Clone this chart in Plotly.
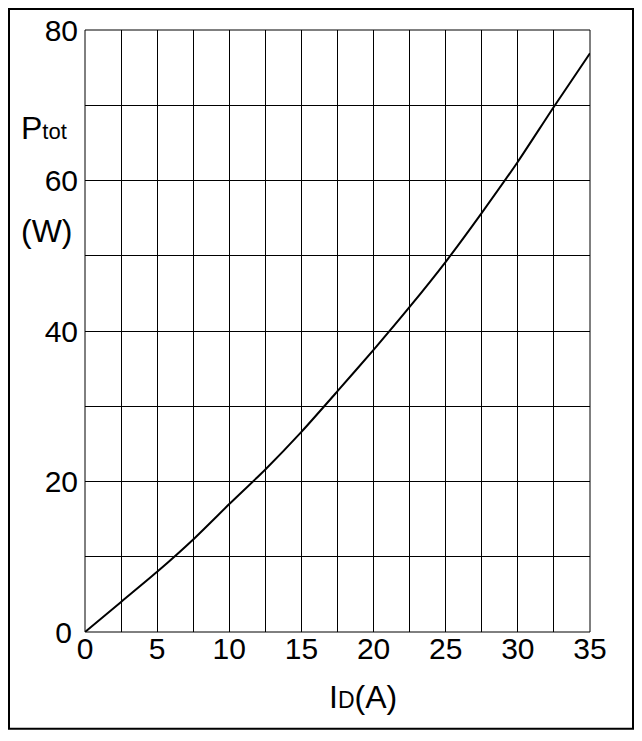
import plotly.graph_objects as go

current_a = [0, 2.5, 5, 7.5, 10, 12.5, 15, 17.5, 20, 22.5, 25, 27.5, 30, 32.5, 35]
power_w = [0, 4.0, 8.0, 12.3, 17.0, 21.6, 26.6, 32.0, 37.5, 43.2, 49.2, 55.7, 62.5, 69.8, 76.9]

y_tick_vals = [0, 20, 40, 60, 80]
y_tick_text = ["0\u2009", "20", "40", "60", "80"]

FONT = "Liberation Sans, Arial, sans-serif"
OFFX, OFFY = 8, 8  # default page body margin

W, H = 626, 725
L, R, T, B = 77, 44, 22, 101
pw, ph = W - L - R, H - T - B


def px2x(page_x):
    return (page_x - OFFX - L) / pw


def px2y(page_y):
    return (H - B - (page_y - OFFY)) / ph


fig = go.Figure()
fig.add_trace(go.Scatter(x=current_a, y=power_w, mode="lines",
                         line=dict(color="black", width=2, shape="spline", smoothing=0.6),
                         hoverinfo="skip", showlegend=False))

tickfont = dict(family=FONT, size=30, color="black")

fig.update_xaxes(range=[0, 35], dtick=5, tick0=0, automargin=False,
                 showline=False, showgrid=True, gridcolor="black", gridwidth=1,
                 minor=dict(dtick=2.5, showgrid=True, gridcolor="black", gridwidth=1),
                 zeroline=False, ticks="", tickfont=tickfont,
                 ticklabelstandoff=0, anchor="free", position=0.007)
fig.update_yaxes(range=[0, 80], tickmode="array", tickvals=y_tick_vals, ticktext=y_tick_text,
                 automargin=False,
                 showline=False, showgrid=True, gridcolor="black", gridwidth=1,
                 minor=dict(dtick=10, tick0=0, showgrid=True, gridcolor="black", gridwidth=1),
                 zeroline=False, ticks="", tickfont=tickfont,
                 ticklabelstandoff=6)

annotations = [
    dict(text='P<span style="font-size:22px">tot</span>', x=px2x(19), y=px2y(128),
         xanchor="left", yanchor="middle"),
    dict(text='(W)', x=px2x(19), y=px2y(231), xanchor="left", yanchor="middle"),
    dict(text='I<span style="font-size:23px">D</span>(A)', x=px2x(363), y=px2y(697),
         xanchor="center", yanchor="middle"),
]
for a in annotations:
    a.update(xref="paper", yref="paper", showarrow=False,
             font=dict(family=FONT, size=32, color="black"))

# outer frame: as close to the figure edges as the page allows
fx0, fx1 = 1, W - 1
fy_top, fy_bot = 1, 728.7 - OFFY

fig.update_layout(
    width=W, height=H,
    margin=dict(l=L, r=R, t=T, b=B, autoexpand=False),
    paper_bgcolor="white", plot_bgcolor="white",
    annotations=annotations,
    shapes=[
        dict(type="rect", xref="paper", yref="paper", x0=0, x1=1, y0=0, y1=1,
             line=dict(color="black", width=1)),
        dict(type="rect", xref="paper", yref="paper",
             x0=(fx0 - L) / pw, x1=(fx1 - L) / pw,
             y0=(H - B - fy_bot) / ph, y1=(H - B - fy_top) / ph,
             line=dict(color="black", width=2)),
    ],
)

fig.write_html("out.html")
